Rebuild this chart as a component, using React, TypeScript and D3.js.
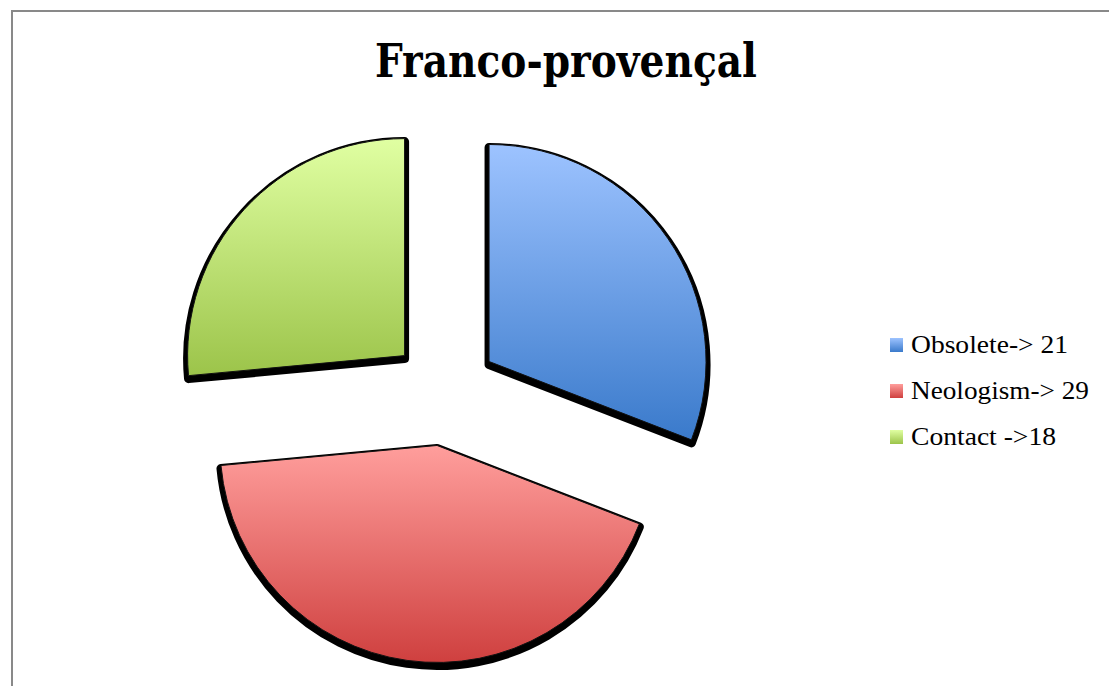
import React from "react";
import * as d3 from "d3";

const title = "Franco-provençal";
const categories = ["Obsolete", "Neologism", "Contact"];
const legendLabels = ["Obsolete-> 21", "Neologism-> 29", "Contact ->18"];
const values = [21, 29, 18];
const topColors = ["#9DC3FF", "#FF9E9C", "#E0FFA2"];
const bottomColors = ["#3A7ACB", "#CF403F", "#9CC44A"];

const W = 1109;
const H = 686;
const cx = 444.5;
const cy = 392;
const R = 217;
const explode = 54;
const legendWidths = [157, 178, 145];

export default function App() {
  const pie = d3.pie<number>().sort(null).value((d) => d);
  const arcs = pie(values);
  const arcGen = d3.arc<d3.PieArcDatum<number>>().innerRadius(0).outerRadius(R);

  return (
    <svg
      width={W}
      height={H}
      style={{ position: "absolute", left: 0, top: 0, background: "#fff" }}
    >
      <defs>
        {categories.map((c, i) => (
          <linearGradient key={c} id={`g${i}`} x1="0" y1="0" x2="0" y2="1">
            <stop offset="0%" stopColor={topColors[i]} />
            <stop offset="100%" stopColor={bottomColors[i]} />
          </linearGradient>
        ))}
      </defs>
      <rect x={0} y={0} width={W} height={H} fill="#fff" />
      <path d={`M12,${H + 5} L12,11 L${W + 5},11`} fill="none" stroke="#898989" strokeWidth={2} />
      <text
        x={566}
        y={77}
        textAnchor="middle"
        fontFamily="'DejaVu Serif', serif"
        fontWeight="bold"
        fontSize={46}
        textLength={382}
        lengthAdjust="spacingAndGlyphs"
        fill="#000"
      >
        {title}
      </text>
      {arcs.map((a, i) => {
        const mid = (a.startAngle + a.endAngle) / 2;
        const dx = cx + explode * Math.sin(mid);
        const dy = cy - explode * Math.cos(mid);
        const d = arcGen(a) || "";
        return (
          <g key={categories[i]} transform={`translate(${dx},${dy})`}>
            <path
              d={d}
              transform="translate(0,3)"
              fill="#000"
              stroke="#000"
              strokeWidth={9}
              strokeLinejoin="round"
            />
            <path d={d} fill={`url(#g${i})`} stroke="#111" strokeWidth={1} strokeLinejoin="round" />
          </g>
        );
      })}
      {legendLabels.map((l, i) => (
        <g key={l}>
          <rect x={890} y={338 + i * 46} width={13} height={14} fill={`url(#g${i})`} />
          <text
            x={911}
            y={353 + i * 46}
            fontFamily="'Liberation Serif', serif"
            fontSize={25}
            textLength={legendWidths[i]}
            lengthAdjust="spacingAndGlyphs"
            fill="#000"
          >
            {l}
          </text>
        </g>
      ))}
    </svg>
  );
}
